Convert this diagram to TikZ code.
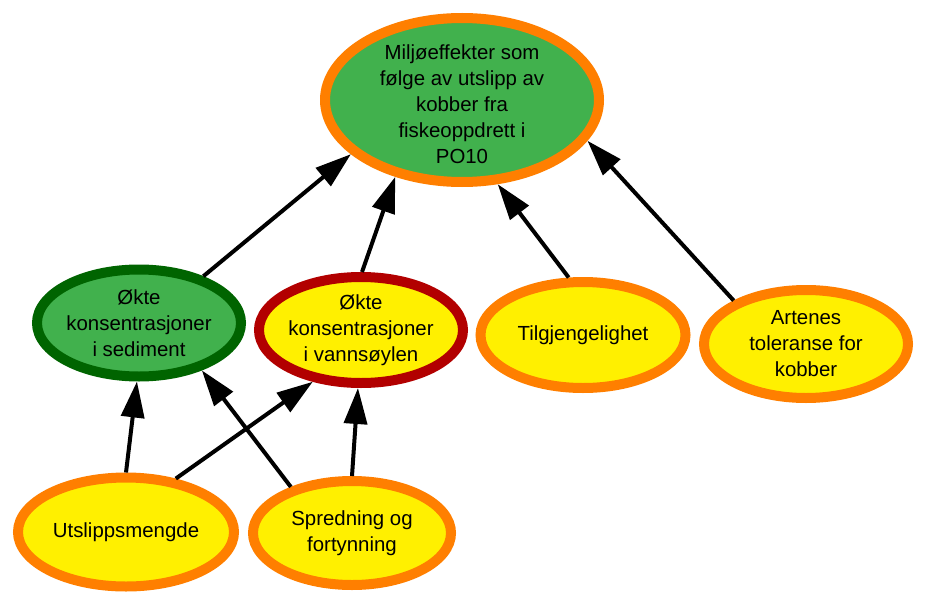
\documentclass[tikz,border=0pt]{standalone}
\usepackage{fontspec}
\setmainfont{Liberation Sans}
\usetikzlibrary{arrows.meta}
\usetikzlibrary{shapes.geometric}
\definecolor{orangeline}{RGB}{255,127,0}
\definecolor{greenfill}{RGB}{65,177,77}
\definecolor{darkgreenline}{RGB}{0,100,0}
\definecolor{redline}{RGB}{178,0,0}
\definecolor{yellowfill}{RGB}{255,240,0}
\tikzset{factor/.style = {ellipse, line width=5pt, inner sep=0pt, outer sep=2.5pt},
         txt/.style = {align=center, font=\fontsize{10.2}{13}\selectfont},
         pil/.style = {line width=2pt, -{Triangle[length=18pt, width=11.5pt]}}}

\begin{document}
\begin{tikzpicture}[x=0.5pt, y=-0.5pt]
      \useasboundingbox (0, 0) rectangle (936, 610);

      \node [factor, draw=orangeline, fill=greenfill, minimum width=137pt, minimum height=82pt,
             label={[txt, yshift=-2pt]center:{Miljøeffekter som\\følge av utslipp av\\kobber fra\\fiskeoppdrett i\\PO10}}] (effekt) at (462, 100) {};
      \node [factor, draw=darkgreenline, fill=greenfill, minimum width=102pt, minimum height=53.5pt,
             label={[txt]center:{Økte\\konsentrasjoner\\i sediment}}] (sediment) at (139, 323) {};
      \node [factor, draw=redline, fill=yellowfill, minimum width=102pt, minimum height=53pt,
             label={[txt]center:{Økte\\konsentrasjoner\\i vannsøylen}}] (vann) at (361, 330) {};
      \node [factor, draw=orangeline, fill=yellowfill, minimum width=102.5pt, minimum height=53pt,
             label={[txt]center:{Tilgjengelighet}}] (tilgj) at (583, 335) {};
      \node [factor, draw=orangeline, fill=yellowfill, minimum width=102pt, minimum height=54pt,
             label={[txt]center:{Artenes\\toleranse for\\kobber}}] (toleranse) at (806, 344) {};
      \node [factor, draw=orangeline, fill=yellowfill, minimum width=108pt, minimum height=54.5pt,
             label={[txt]center:{Utslippsmengde}}] (utslipp) at (126, 532) {};
      \node [factor, draw=orangeline, fill=yellowfill, minimum width=99pt, minimum height=52pt,
             label={[txt]center:{Spredning og\\fortynning}}] (spredning) at (352, 533) {};

      \draw [pil] (sediment.36) -- (effekt.206);
      \draw [pil] (vann.89) -- (effekt.229);
      \draw [pil] (tilgj.104) -- (effekt.293);
      \draw [pil] (toleranse.149) -- (effekt.342);
      \draw [pil] (utslipp.90) -- (sediment.268);
      \draw [pil] (utslipp.47) -- (vann.227);
      \draw [pil] (spredning.143) -- (sediment.323);
      \draw [pil] (spredning.90) -- (vann.267);
    \end{tikzpicture}
\end{document}
